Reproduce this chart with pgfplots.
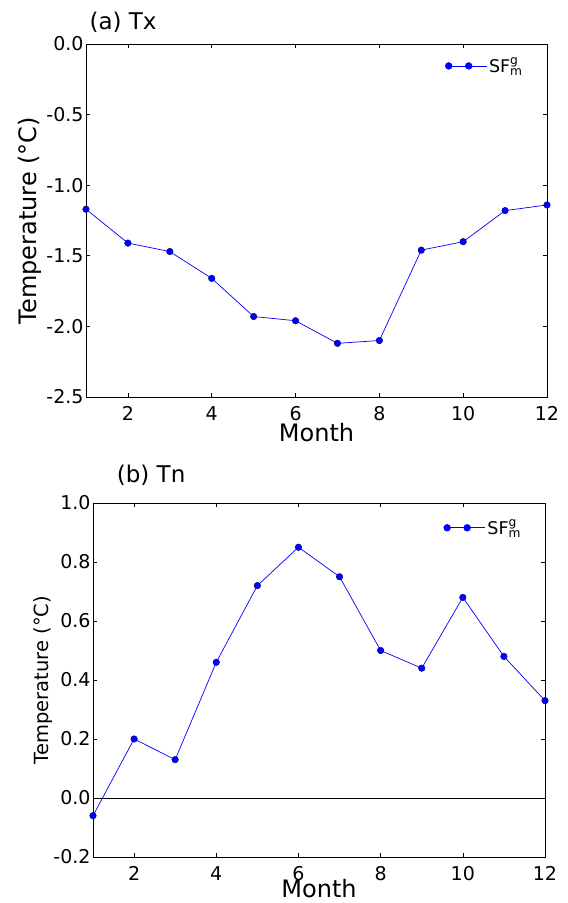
\documentclass[border=0pt]{standalone}
\usepackage{fontspec}
\setmainfont{DejaVu Sans}
\usepackage{pgfplots}
\pgfplotsset{compat=1.18}

\pgfplotsset{
  mplstyle/.style={
    scale only axis,
    anchor=south west,
    xmin=1, xmax=12,
    xtick={2,4,6,8,10,12},
    xticklabels={2,4,6,8,10,12},
    tick align=inside,
    major tick length=4pt,
    tick style={black, line width=0.6pt},
    axis line style={line width=0.9pt},
    tick label style={font=\fontsize{19}{19}\selectfont},
    xticklabel style={inner sep=1pt, yshift=-8pt},
    yticklabel style={xshift=1pt},
    legend cell align=left,
    legend style={draw=none, fill=none, font=\fontsize{17.5}{17.5}\selectfont,
      anchor=north east, inner sep=0pt},
    legend image code/.code={
      \draw[#1, mark=none] (0pt,0pt) -- (20pt,0pt);
      \fill[blue] (0pt,0pt) circle (3.3pt);
      \fill[blue] (20pt,0pt) circle (3.3pt);
      \path (20pt,0pt) -- (38pt,0pt);
    },
  },
  series/.style={blue, line width=0.7pt, mark=*, mark size=3.3pt,
    mark options={fill=blue, draw=blue!40!black, line width=0.4pt}},
}

\begin{document}
\begin{tikzpicture}
\path[use as bounding box] (0pt,0pt) rectangle (568pt,903pt);

% (a) Tx
\begin{axis}[mplstyle,
  at={(86pt,506pt)}, width=461pt, height=353pt,
  ymin=-2.5, ymax=0,
  ytick={-2.5,-2,-1.5,-1,-0.5,0},
  yticklabels={-2.5,-2.0,-1.5,-1.0,-0.5,0.0},
  xlabel={Month},
  xlabel style={font=\fontsize{24}{24}\selectfont, yshift=2pt},
  ylabel={Temperature (°C)},
  ylabel style={font=\fontsize{24}{24}\selectfont, yshift=-2pt},
  legend style={at={(0.952,0.968)}},
  title={(a) Tx},
  title style={font=\fontsize{23}{23}\selectfont, at={(0.0,1)}, anchor=south west, yshift=2pt},
]
\addplot[series] coordinates {
  (1,-1.17) (2,-1.41) (3,-1.47) (4,-1.66) (5,-1.93) (6,-1.96)
  (7,-2.12) (8,-2.10) (9,-1.46) (10,-1.40) (11,-1.18) (12,-1.14)
};
\addlegendentry{SF$^{\mathrm{g}}_{\mathrm{m}}$}
\end{axis}

% (b) Tn
\begin{axis}[mplstyle,
  at={(93pt,46pt)}, width=452pt, height=354pt,
  ymin=-0.2, ymax=1.0,
  ytick={-0.2,0,0.2,0.4,0.6,0.8,1.0},
  yticklabels={-0.2,0.0,0.2,0.4,0.6,0.8,1.0},
  xlabel={Month},
  xlabel style={font=\fontsize{24}{24}\selectfont, inner sep=1pt, yshift=4pt},
  ylabel={Temperature (°C)},
  ylabel style={font=\fontsize{19.5}{19.5}\selectfont, yshift=-6pt},
  legend style={at={(0.952,0.96)}},
  title={(b) Tn},
  title style={font=\fontsize{23}{23}\selectfont, at={(0.045,1)}, anchor=south west, yshift=8pt},
]
\addplot[black, line width=0.8pt, forget plot] coordinates {(1,0) (12,0)};
\addplot[series] coordinates {
  (1,-0.06) (2,0.20) (3,0.13) (4,0.46) (5,0.72) (6,0.85)
  (7,0.75) (8,0.50) (9,0.44) (10,0.68) (11,0.48) (12,0.33)
};
\addlegendentry{SF$^{\mathrm{g}}_{\mathrm{m}}$}
\end{axis}
\end{tikzpicture}
\end{document}
